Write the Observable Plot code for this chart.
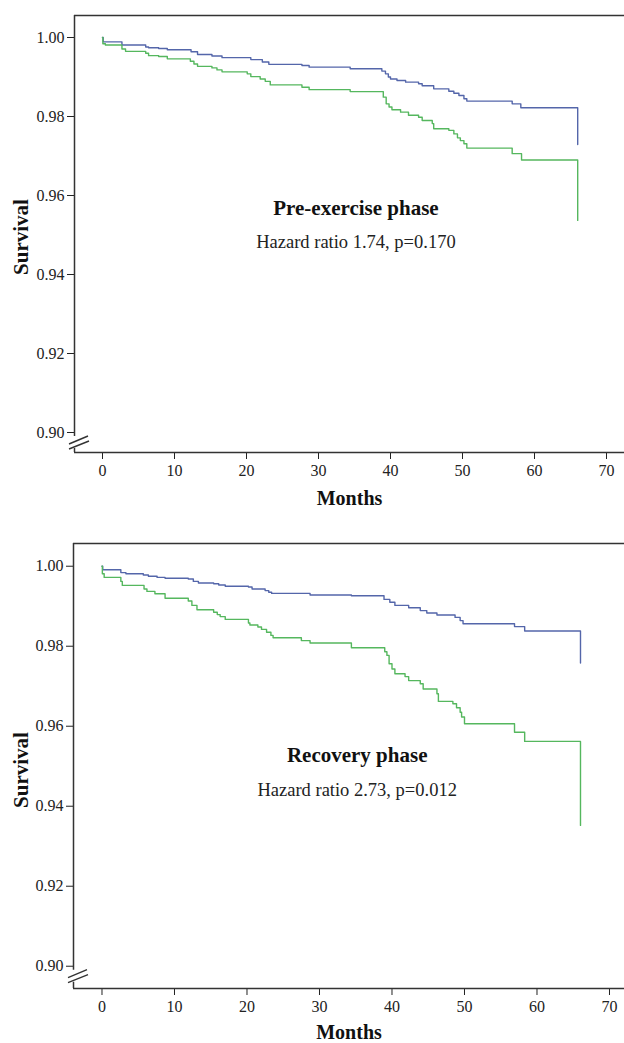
<!DOCTYPE html>
<html><head><meta charset="utf-8">
<script src="https://cdn.jsdelivr.net/npm/d3@7"></script>
<script src="https://cdn.jsdelivr.net/npm/@observablehq/plot@0.6"></script>
<style>body{margin:0;background:#fff} svg{display:block}</style>
</head><body><div id="chart"></div>
<script>
// ---- tick labels / text ----
const xTicks = [0, 10, 20, 30, 40, 50, 60, 70];
const yTicks = [0.90, 0.92, 0.94, 0.96, 0.98, 1.00];
const xLabel = "Months";
const yLabel = "Survival";
const panelTitles = ["Pre-exercise phase", "Recovery phase"];
const panelStats = ["Hazard ratio 1.74, p=0.170", "Hazard ratio 2.73, p=0.012"];

// ---- Pre-exercise phase, blue group ----
const preBlueMonths = [0, 0.1, 2.7, 6.0, 6.4, 7.8, 9.0, 12.3, 13.2, 15.2, 16.6, 20.6, 22.2, 23.1, 27.7, 28.7, 34.4, 38.8, 39.3, 39.7, 40.0, 40.9, 42.1, 43.9, 44.4, 46.0, 48.1, 48.8, 49.5, 50.2, 50.6, 56.9, 58.1, 66];
const preBlueSurv   = [1.000, 0.9989, 0.9981, 0.9976, 0.9974, 0.9972, 0.9969, 0.9964, 0.9957, 0.9953, 0.9949, 0.9944, 0.9938, 0.9932, 0.9929, 0.9925, 0.9921, 0.9915, 0.9908, 0.9900, 0.9895, 0.9891, 0.9887, 0.9883, 0.9878, 0.9870, 0.9864, 0.9859, 0.9853, 0.9845, 0.9839, 0.9832, 0.9822, 0.9729];
// ---- Pre-exercise phase, green group ----
const preGreenMonths = [0, 0.05, 0.4, 2.7, 3.2, 6.0, 6.4, 7.8, 9.0, 12.2, 12.7, 13.2, 15.2, 15.9, 16.6, 20.1, 20.6, 21.9, 22.6, 23.3, 27.7, 28.7, 34.4, 39.0, 39.4, 39.8, 40.2, 41.4, 42.5, 43.9, 44.4, 45.8, 46.0, 48.1, 48.8, 49.3, 49.7, 50.2, 50.6, 56.9, 58.2, 66];
const preGreenSurv   = [1.000, 0.9984, 0.9981, 0.9971, 0.9965, 0.9960, 0.9954, 0.9952, 0.9946, 0.9940, 0.9933, 0.9927, 0.9923, 0.9918, 0.9913, 0.9908, 0.9901, 0.9895, 0.9889, 0.9880, 0.9874, 0.9868, 0.9863, 0.9849, 0.9832, 0.9824, 0.9817, 0.9811, 0.9803, 0.9798, 0.9790, 0.9782, 0.9769, 0.9765, 0.9756, 0.9746, 0.9739, 0.9731, 0.9720, 0.9706, 0.9690, 0.9537];
// ---- Recovery phase, blue group ----
const recBlueMonths = [0, 0.1, 2.6, 3.3, 5.7, 6.4, 7.6, 8.7, 11.9, 12.6, 13.3, 15.4, 16.1, 17.0, 20.2, 20.7, 22.5, 23.0, 23.4, 28.7, 34.4, 38.9, 39.7, 40.4, 42.3, 43.9, 44.8, 46.2, 48.7, 49.4, 49.8, 56.9, 58.3, 66];
const recBlueSurv   = [1.000, 0.9991, 0.9984, 0.9981, 0.9978, 0.9975, 0.9972, 0.9970, 0.9968, 0.9962, 0.9958, 0.9956, 0.9953, 0.9950, 0.9948, 0.9943, 0.9939, 0.9935, 0.9932, 0.9928, 0.9926, 0.9917, 0.9910, 0.9902, 0.9896, 0.9889, 0.9883, 0.9878, 0.9872, 0.9864, 0.9856, 0.9849, 0.9838, 0.9758];
// ---- Recovery phase, green group ----
const recGreenMonths = [0, 0.05, 0.3, 2.6, 2.8, 5.8, 6.2, 7.3, 8.7, 11.9, 12.4, 13.1, 15.4, 15.9, 16.3, 17.0, 20.2, 20.4, 21.5, 22.0, 22.7, 23.3, 23.6, 27.5, 28.7, 34.4, 39.0, 39.3, 39.6, 40.0, 40.4, 41.8, 42.3, 43.9, 44.3, 46.2, 46.4, 48.4, 48.9, 49.4, 49.6, 50.0, 56.9, 58.3, 66];
const recGreenSurv   = [1.000, 0.9981, 0.9972, 0.9962, 0.9952, 0.9943, 0.9937, 0.9931, 0.9920, 0.9913, 0.9902, 0.9891, 0.9885, 0.9879, 0.9874, 0.9867, 0.9858, 0.9853, 0.9848, 0.9842, 0.9835, 0.9827, 0.9821, 0.9814, 0.9808, 0.9796, 0.9786, 0.9777, 0.9756, 0.9743, 0.9731, 0.9724, 0.9714, 0.9706, 0.9693, 0.9681, 0.9662, 0.9656, 0.9646, 0.9635, 0.9623, 0.9606, 0.9585, 0.9562, 0.9352];

const BLUE = "#5466aa";
const GREEN = "#55b75e";
const AXIS = "#333";
const FONT = "'Liberation Serif', 'Times New Roman', serif";

const toRows = (ms, ss) => ms.map((t, i) => ({t, s: ss[i]}));

function panel(cfg) {
  const {height, mt, mb, ml, xmin, xmax, ymin, ymax, blue, green, title, stat, textX, titleY, statY, labelDy, survDy} = cfg;
  const pxPerUnit = (height - mt - mb) / (ymax - ymin);
  const breakHi = 0.90 - 4 / pxPerUnit;
  const breakLo = 0.90 - 16 / pxPerUnit;
  const plot = Plot.plot({
    width: 624, height,
    marginTop: mt, marginBottom: mb, marginLeft: ml, marginRight: 0,
    style: {fontFamily: FONT, fontSize: "16px", color: "#222", background: "white", overflow: "visible"},
    x: {domain: [xmin, xmax], ticks: xTicks, tickSize: 7, tickPadding: 5, tickFormat: d => d, label: null},
    y: {domain: [ymin, ymax], ticks: yTicks, tickSize: 7, tickPadding: 3, tickFormat: ".2f", label: null},
    marks: [
      Plot.ruleY([ymax], {stroke: AXIS, strokeWidth: 1.5}),
      Plot.ruleY([ymin], {stroke: AXIS, strokeWidth: 1.5}),
      Plot.ruleX([{x: xmin, y1: ymax, y2: breakHi}], {x: "x", y1: "y1", y2: "y2", stroke: AXIS, strokeWidth: 1.5}),
      Plot.ruleX([{x: xmin, y1: breakLo, y2: ymin}], {x: "x", y1: "y1", y2: "y2", stroke: AXIS, strokeWidth: 1.5}),
      Plot.line(blue, {x: "t", y: "s", curve: "step-after", stroke: BLUE, strokeWidth: 1.4}),
      Plot.line(green, {x: "t", y: "s", curve: "step-after", stroke: GREEN, strokeWidth: 1.4}),
      Plot.text([{x: textX, y: titleY, label: title}], {x: "x", y: "y", text: "label", fontWeight: "bold", fontSize: 21, fill: "#111"}),
      Plot.text([{x: textX, y: statY, label: stat}], {x: "x", y: "y", text: "label", fontSize: 18.5, fill: "#222"}),
      Plot.text([xLabel], {text: d => d, frameAnchor: "bottom", textAnchor: "middle", lineAnchor: "middle", dy: labelDy, fontWeight: "bold", fontSize: 20, fill: "#111"}),
      Plot.text([yLabel], {text: d => d, frameAnchor: "left", textAnchor: "middle", lineAnchor: "middle", dx: -(ml - 21), dy: survDy, rotate: -90, fontWeight: "bold", fontSize: 21, fill: "#111"})
    ]
  });
  // axis break marks (double slash) on the y axis, placed from the scales
  const xs = plot.scale("x"), ys = plot.scale("y");
  const ax = xs.apply(xmin);
  const by = ys.apply(0.90) + 10;
  const g = d3.select(plot).append("g").attr("stroke", AXIS).attr("stroke-width", 1.4);
  g.append("line").attr("x1", ax - 5).attr("y1", by + 2).attr("x2", ax + 14).attr("y2", by - 6);
  g.append("line").attr("x1", ax - 5).attr("y1", by + 7).attr("x2", ax + 15).attr("y2", by - 1);
  return plot;
}

const chart = document.getElementById("chart");
chart.appendChild(panel({
  height: 520, mt: 15, mb: 68, ml: 74,
  xmin: -3.889, xmax: 72.5, ymin: 0.89494, ymax: 1.00557,
  blue: toRows(preBlueMonths, preBlueSurv), green: toRows(preGreenMonths, preGreenSurv),
  title: panelTitles[0], stat: panelStats[0],
  textX: 35.2, titleY: 0.95684, statY: 0.94823, labelDy: 46, survDy: 3
}));
chart.appendChild(panel({
  height: 523, mt: 23, mb: 55, ml: 73,
  xmin: -3.93, xmax: 72.07, ymin: 0.89443, ymax: 1.00568,
  blue: toRows(recBlueMonths, recBlueSurv), green: toRows(recGreenMonths, recGreenSurv),
  title: panelTitles[1], stat: panelStats[1],
  textX: 35.2, titleY: 0.95268, statY: 0.94393, labelDy: 44, survDy: 4
}));
</script>
</body></html>
